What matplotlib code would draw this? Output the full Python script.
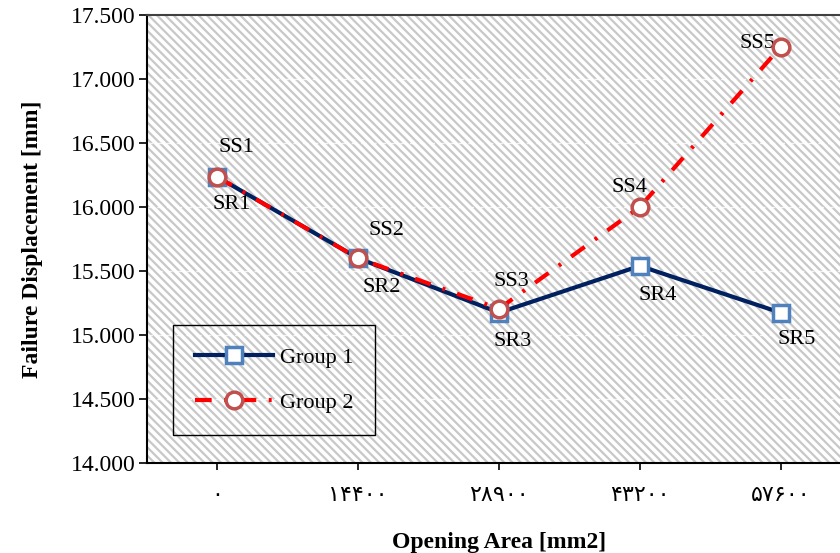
import numpy as np
import matplotlib
matplotlib.use('Agg')
import matplotlib.pyplot as plt
from matplotlib.patches import Rectangle

# chart data
x_labels = ['۰', '۱۴۴۰۰', '۲۸۹۰۰', '۴۳۲۰۰', '۵۷۶۰۰']
group1 = [16.235, 15.600, 15.175, 15.540, 15.175]
group2 = [16.235, 15.600, 15.205, 16.000, 17.250]
group1_tags = ['SR1', 'SR2', 'SR3', 'SR4', 'SR5']
group2_tags = ['SS1', 'SS2', 'SS3', 'SS4', 'SS5']
y_ticks = [14.0, 14.5, 15.0, 15.5, 16.0, 16.5, 17.0, 17.5]

# label offsets in pixels (x, y)
g1_off = [(14, -28), (24, -29), (14, -29), (18, -30), (16, -27)]
g2_off = [(19, 29), (28, 28), (12, 27), (-10, 20), (-23, 4)]

plt.rcParams['font.family'] = ['Liberation Serif', 'DejaVu Sans']
plt.rcParams['hatch.linewidth'] = 1.6

fig = plt.figure(figsize=(8.4, 5.53), dpi=100)
ax = fig.add_axes([0.175, 0.1627, 0.838, 0.810])

# hatched plot background
ax.add_patch(Rectangle((0, 0), 1, 1, transform=ax.transAxes, facecolor='white',
                       edgecolor='#c8c8c8', hatch='\\\\\\\\', lw=0, zorder=0))

xs = np.arange(len(x_labels))

for yv in y_ticks[1:-1]:
  ax.axhline(yv, color='white', lw=1.0, ls=(0, (4, 3)), alpha=0.8, zorder=1)

ax.plot(xs, group1, color='#002060', lw=3, marker='s', ms=11,
        mfc='white', mec='#4F81BD', mew=2.5, label='Group 1', zorder=3)
ax.plot(xs, group2, color='#FF0000', lw=3, ls=(0, (4, 3, 0.7, 3)),
        marker='o', ms=12, mfc='white', mec='#C0504D', mew=2.5,
        label='Group 2', zorder=4)

for i in range(len(xs)):
  ax.annotate(group1_tags[i], (xs[i], group1[i]), xytext=g1_off[i],
              textcoords='offset pixels', ha='center', va='center', fontsize=16)
  ax.annotate(group2_tags[i], (xs[i], group2[i]), xytext=g2_off[i],
              textcoords='offset pixels', ha='center', va='center', fontsize=16)

ax.set_xlim(-0.5, 4.5)
ax.set_ylim(14.0, 17.5)
ax.set_yticks(y_ticks)
ax.set_yticklabels(['%.3f' % v for v in y_ticks], fontsize=17)
ax.set_xticks(xs)
ax.set_xticklabels(x_labels, fontsize=16)
ax.tick_params(axis='y', direction='out', length=6, width=1.2, pad=2)
ax.tick_params(axis='x', direction='out', length=5, width=1.2, pad=12)

ax.spines['right'].set_visible(False)
ax.spines['top'].set_color('#404040')
ax.spines['top'].set_linewidth(1.5)
ax.spines['left'].set_linewidth(1.5)
ax.spines['bottom'].set_linewidth(1.5)

ax.set_xlabel('Opening Area [mm2]', fontsize=17, fontweight='bold', labelpad=19)
ax.set_ylabel('Failure Displacement [mm]', fontsize=17, fontweight='bold', labelpad=20)

leg = ax.legend(loc='lower left', bbox_to_anchor=(0.037, 0.063), fontsize=16,
                frameon=True, fancybox=False, edgecolor='black', framealpha=1,
                handlelength=3.5, borderpad=1.0, labelspacing=1.1,
                handletextpad=0.3, borderaxespad=0)
leg.get_frame().set_facecolor('none')
leg.get_frame().set_linewidth(1.0)

plt.savefig('out.png', dpi=100)
